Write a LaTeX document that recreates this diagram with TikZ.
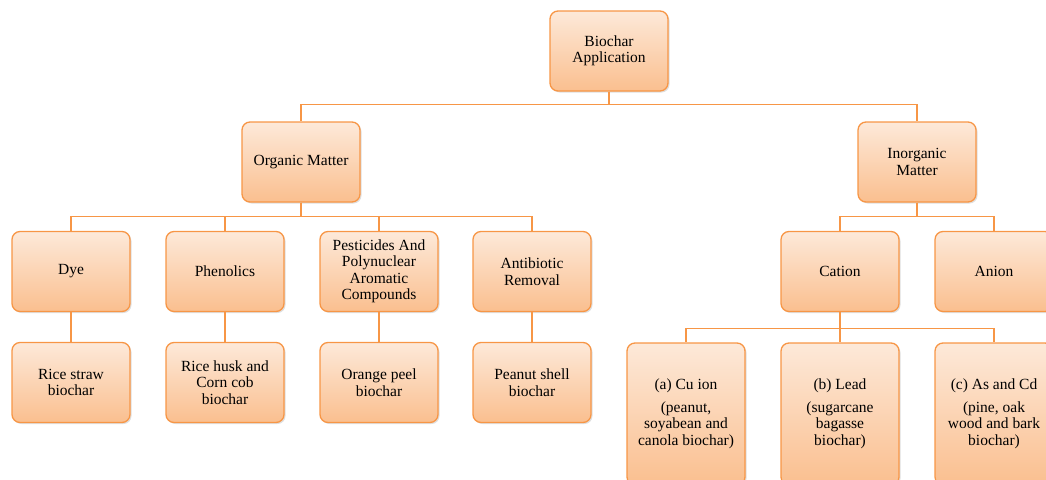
\documentclass[tikz,border=0pt]{standalone}
\usepackage{fontspec}
\setmainfont{Liberation Serif}
\usetikzlibrary{
    positioning, % relative placement
    shadows % soft shadow under the boxes
}
\definecolor{accent}{RGB}{247,150,70}
\definecolor{peachtop}{RGB}{253,233,217}
\definecolor{peachbot}{RGB}{250,191,143}

\begin{document}
\begin{tikzpicture}[x=1pt,y=-1pt]
    % blocks
    \tikzstyle{box}  = [rectangle, rounded corners=8pt, draw=accent, line width=1.3pt,
                        top color=peachtop, bottom color=peachbot, text=black, align=center,
                        font=\fontsize{15.5}{16.5}\selectfont, minimum width=118pt, minimum height=80pt,
                        drop shadow={opacity=0.25, shadow xshift=1.5pt, shadow yshift=-1.5pt}]
    \tikzstyle{tall} = [box, minimum height=142pt]
    \tikzstyle{line} = [draw=accent, line width=1.3pt]
    \useasboundingbox (0,0) rectangle (1046,479);
    % top level
    \node[box] (app)   at (609,51)  {Biochar\\Application};
    \node[box] (org)   at (301,162) {Organic Matter};
    \node[box] (inorg) at (917,162) {Inorganic\\Matter};
    % second row
    \node[box] (dye)   at (71,271.5)  {Dye};
    \node[box] (phen)  at (225,271.5) {Phenolics};
    \node[box] (pest)  at (379,271.5) {Pesticides And\\Polynuclear\\Aromatic\\Compounds};
    \node[box] (anti)  at (532,271.5) {Antibiotic\\Removal};
    \node[box] (cat)   at (840,271.5) {Cation};
    \node[box] (anion) at (994,271.5) {Anion};
    % third row
    \node[box] (straw)  at (71,382.5)  {Rice straw\\biochar};
    \node[box] (husk)   at (225,382.5) {Rice husk and\\Corn cob\\biochar};
    \node[box] (orange) at (379,382.5) {Orange peel\\biochar};
    \node[box] (peanut) at (532,382.5) {Peanut shell\\biochar};
    \node[tall] (cu)    at (686,414)   {(a) Cu ion\\[6pt](peanut,\\soyabean and\\canola biochar)};
    \node[tall] (lead)  at (840,414)   {(b) Lead\\[6pt](sugarcane\\bagasse\\biochar)};
    \node[tall] (ascd)  at (994,414)   {(c) As and Cd\\[6pt](pine, oak\\wood and bark\\biochar)};
    % ---- connectors ----
    \foreach \c in {org,inorg} \draw[line] (app.south) -- ++(0,13) -| (\c.north);
    \foreach \c in {dye,phen,pest,anti} \draw[line] (org.south) -- ++(0,14) -| (\c.north);
    \foreach \c in {cat,anion} \draw[line] (inorg.south) -- ++(0,14) -| (\c.north);
    \foreach \c in {cu,lead,ascd} \draw[line] (cat.south) -- ++(0,16) -| (\c.north);
    % leaf links
    \draw[line] (dye) -- (straw);
    \draw[line] (phen) -- (husk);
    \draw[line] (pest) -- (orange);
    \draw[line] (anti) -- (peanut);
\end{tikzpicture}
\end{document}
